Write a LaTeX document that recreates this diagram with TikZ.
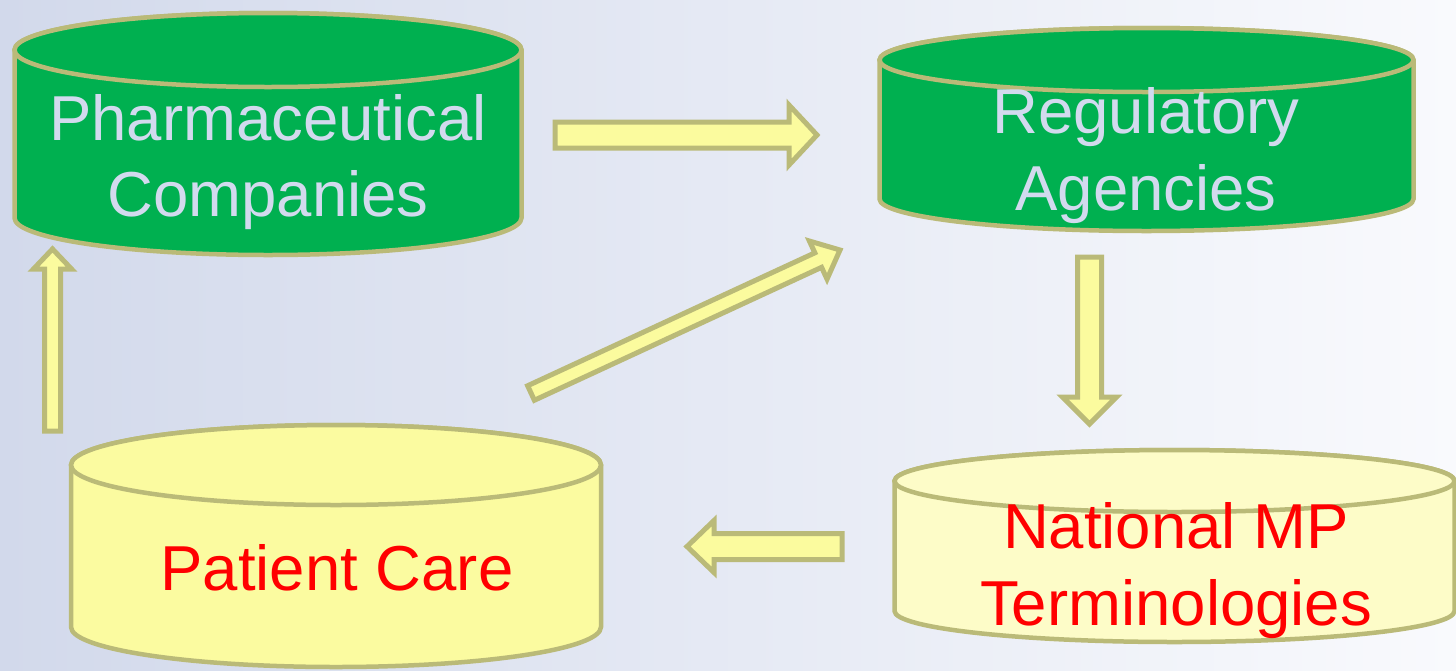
\documentclass[tikz,border=0pt]{standalone}
\usepackage{fontspec}
\setmainfont{Liberation Sans}
\usetikzlibrary{calc}
\definecolor{bgL}{RGB}{210,217,235}
\definecolor{bgR}{RGB}{249,250,253}
\definecolor{khaki}{RGB}{186,186,120}
\definecolor{dbgreen}{RGB}{0,176,80}
\definecolor{lavtext}{RGB}{210,218,238}
\definecolor{pyellow}{RGB}{251,251,160}
\definecolor{lyellow}{RGB}{253,252,200}
\definecolor{ayellow}{RGB}{251,251,158}
\tikzset{
  cylstyle/.style={draw=khaki, line width=4.5pt},
  arrowstyle/.style={draw=khaki, fill=ayellow, line width=5pt, line join=miter},
  lbl/.style={font=\fontsize{63.5}{77}\selectfont, inner sep=0pt, anchor=base},
  gtext/.style={lbl, text=lavtext},
  rtext/.style={lbl, text=red},
}
\newcommand\drawcyl[6]{%
  \filldraw[cylstyle, fill=#6] ({#1-#4},#2) -- ({#1-#4},#3)
    arc[start angle=180, end angle=360, x radius=#4pt, y radius=#5pt]
    -- ({#1+#4},#2)
    arc[start angle=0, end angle=180, x radius=#4pt, y radius=#5pt] -- cycle;
  \filldraw[cylstyle, fill=#6] (#1,#2) ellipse [x radius=#4pt, y radius=#5pt];
}
\newcommand\blockarrow[5]{%
  \coordinate (#1b) at ($(#2)!#5pt!(#1)$);
  \filldraw[arrowstyle] ($(#1)!#3pt!90:(#2)$) -- ($(#1b)!#3pt!-90:(#1)$)
    -- ($(#1b)!#4pt!-90:(#1)$) -- (#2) -- ($(#1b)!#4pt!90:(#1)$)
    -- ($(#1b)!#3pt!90:(#1)$) -- ($(#1)!#3pt!-90:(#2)$) -- cycle;
}
\begin{document}
\begin{tikzpicture}[x=1pt, y=-1pt]
  \useasboundingbox (0,0) rectangle (1456,670);
  \clip (0,0) rectangle (1456,670);
  \shade[left color=bgL, right color=bgR] (0,0) rectangle (1456,670);

  % arrows
  \coordinate (a1s) at (555,135);   \coordinate (a1e) at (817,135);
  \coordinate (a2s) at (52.5,431);  \coordinate (a2e) at (52.5,249);
  \coordinate (a3s) at (531,393);   \coordinate (a3e) at (840,250);
  \coordinate (a4s) at (1089.5,257);\coordinate (a4e) at (1089.5,424);
  \coordinate (a5s) at (842,546.5); \coordinate (a5e) at (687,546.5);
  \blockarrow{a1s}{a1e}{13}{30}{28}
  \blockarrow{a2s}{a2e}{8}{19}{20}
  \blockarrow{a3s}{a3e}{8}{21}{24}
  \blockarrow{a4s}{a4e}{12}{27}{27}
  \blockarrow{a5s}{a5e}{13}{26}{27}

  % cylinders
  \drawcyl{268}{50}{218}{253.5}{37}{dbgreen}
  \drawcyl{1146.5}{60}{199}{267}{32}{dbgreen}
  \drawcyl{336}{465}{627}{265}{40}{pyellow}
  \drawcyl{1174.5}{481}{611}{280}{31}{lyellow}

  % labels
  \node[gtext] (pharmaA) at (268,140) {Pharmaceutical};
  \node[gtext] (pharmaB) at (268,216) {Companies};
  \node[gtext] (regA) at (1146,133) {Regulatory};
  \node[gtext] (regB) at (1146,210) {Agencies};
  \node[rtext] (patient) at (337,590) {Patient Care};
  \node[rtext] (natA) at (1176,548) {National MP};
  \node[rtext] (natB) at (1176,625) {Terminologies};
\end{tikzpicture}
\end{document}
